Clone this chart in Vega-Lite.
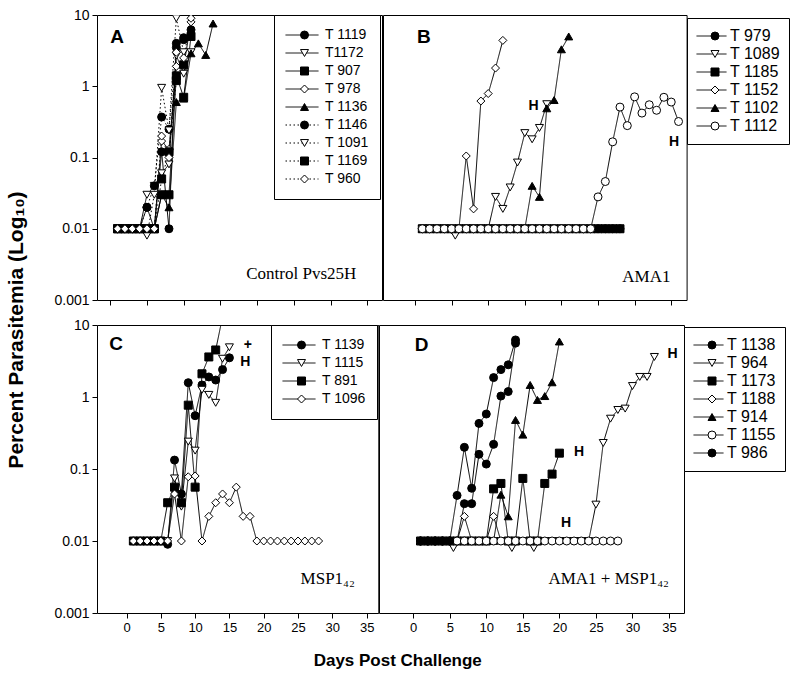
{
  "$schema": "https://vega.github.io/schema/vega-lite/v6.json",
  "padding": {"left": 6, "top": 7, "right": 0, "bottom": 0},
  "background": "white",
  "config": {
    "font": "Liberation Sans",
    "view": {"stroke": "black", "strokeWidth": 1},
    "axis": {"domain": false, "grid": false, "tickColor": "black", "labelColor": "black", "labelFont": "Liberation Sans", "tickSize": 5, "tickWidth": 1},
    "legend": {"symbolStrokeColor": "black", "symbolStrokeWidth": 1}
  },
  "datasets": {
    "A": [
      {"id":"T 1119","day":1,"pct":0.01},{"id":"T 1119","day":2,"pct":0.01},{"id":"T 1119","day":3,"pct":0.01},{"id":"T 1119","day":4,"pct":0.01},{"id":"T 1119","day":5,"pct":0.02},{"id":"T 1119","day":6,"pct":0.01},{"id":"T 1119","day":7,"pct":0.12},{"id":"T 1119","day":8,"pct":0.01},{"id":"T 1119","day":9,"pct":4.0},{"id":"T 1119","day":10,"pct":4.5},{"id":"T 1119","day":11,"pct":6.2},
      {"id":"T1172","day":1,"pct":0.01},{"id":"T1172","day":2,"pct":0.01},{"id":"T1172","day":3,"pct":0.01},{"id":"T1172","day":4,"pct":0.01},{"id":"T1172","day":5,"pct":0.03},{"id":"T1172","day":6,"pct":0.04},{"id":"T1172","day":7,"pct":0.06},{"id":"T1172","day":8,"pct":0.08},{"id":"T1172","day":9,"pct":2.7},{"id":"T1172","day":10,"pct":1.5},{"id":"T1172","day":11,"pct":3.0},
      {"id":"T 907","day":1,"pct":0.01},{"id":"T 907","day":2,"pct":0.01},{"id":"T 907","day":3,"pct":0.01},{"id":"T 907","day":4,"pct":0.01},{"id":"T 907","day":5,"pct":0.01},{"id":"T 907","day":6,"pct":0.01},{"id":"T 907","day":7,"pct":0.03},{"id":"T 907","day":8,"pct":0.03},{"id":"T 907","day":9,"pct":1.4},{"id":"T 907","day":10,"pct":0.7},{"id":"T 907","day":11,"pct":5.0},
      {"id":"T 978","day":1,"pct":0.01},{"id":"T 978","day":2,"pct":0.01},{"id":"T 978","day":3,"pct":0.01},{"id":"T 978","day":4,"pct":0.01},{"id":"T 978","day":5,"pct":0.01},{"id":"T 978","day":6,"pct":0.01},{"id":"T 978","day":7,"pct":0.17},{"id":"T 978","day":8,"pct":0.13},{"id":"T 978","day":9,"pct":1.9},{"id":"T 978","day":10,"pct":1.9},{"id":"T 978","day":11,"pct":8.0},
      {"id":"T 1136","day":1,"pct":0.01},{"id":"T 1136","day":2,"pct":0.01},{"id":"T 1136","day":3,"pct":0.01},{"id":"T 1136","day":4,"pct":0.01},{"id":"T 1136","day":5,"pct":0.01},{"id":"T 1136","day":6,"pct":0.01},{"id":"T 1136","day":7,"pct":0.03},{"id":"T 1136","day":8,"pct":0.02},{"id":"T 1136","day":9,"pct":0.6},{"id":"T 1136","day":10,"pct":0.67},{"id":"T 1136","day":11,"pct":2.9},{"id":"T 1136","day":12,"pct":4.0},{"id":"T 1136","day":13,"pct":2.75},{"id":"T 1136","day":14,"pct":7.6},
      {"id":"T 1146","day":1,"pct":0.01},{"id":"T 1146","day":2,"pct":0.01},{"id":"T 1146","day":3,"pct":0.01},{"id":"T 1146","day":4,"pct":0.01},{"id":"T 1146","day":5,"pct":0.02},{"id":"T 1146","day":6,"pct":0.04},{"id":"T 1146","day":7,"pct":0.37},{"id":"T 1146","day":8,"pct":0.25},{"id":"T 1146","day":9,"pct":3.5},{"id":"T 1146","day":10,"pct":4.8},
      {"id":"T 1091","day":1,"pct":0.01},{"id":"T 1091","day":2,"pct":0.01},{"id":"T 1091","day":3,"pct":0.01},{"id":"T 1091","day":4,"pct":0.01},{"id":"T 1091","day":5,"pct":0.008},{"id":"T 1091","day":6,"pct":0.03},{"id":"T 1091","day":7,"pct":0.95},{"id":"T 1091","day":8,"pct":0.24},{"id":"T 1091","day":9,"pct":9.0},{"id":"T 1091","day":10,"pct":3.0},
      {"id":"T 1169","day":1,"pct":0.01},{"id":"T 1169","day":2,"pct":0.01},{"id":"T 1169","day":3,"pct":0.01},{"id":"T 1169","day":4,"pct":0.01},{"id":"T 1169","day":5,"pct":0.01},{"id":"T 1169","day":6,"pct":0.01},{"id":"T 1169","day":7,"pct":0.05},{"id":"T 1169","day":8,"pct":0.12},{"id":"T 1169","day":9,"pct":1.2},{"id":"T 1169","day":10,"pct":2.0},
      {"id":"T 960","day":1,"pct":0.01},{"id":"T 960","day":2,"pct":0.01},{"id":"T 960","day":3,"pct":0.01},{"id":"T 960","day":4,"pct":0.01},{"id":"T 960","day":5,"pct":0.01},{"id":"T 960","day":6,"pct":0.01},{"id":"T 960","day":7,"pct":0.2},{"id":"T 960","day":8,"pct":0.1},{"id":"T 960","day":9,"pct":3.0},{"id":"T 960","day":10,"pct":2.5},{"id":"T 960","day":11,"pct":9.0}
    ],
    "B": [
      {"id":"T 979","day":1,"pct":0.01},{"id":"T 979","day":2,"pct":0.01},{"id":"T 979","day":3,"pct":0.01},{"id":"T 979","day":4,"pct":0.01},{"id":"T 979","day":5,"pct":0.01},{"id":"T 979","day":6,"pct":0.01},{"id":"T 979","day":7,"pct":0.01},{"id":"T 979","day":8,"pct":0.01},{"id":"T 979","day":9,"pct":0.01},{"id":"T 979","day":10,"pct":0.01},{"id":"T 979","day":11,"pct":0.01},{"id":"T 979","day":12,"pct":0.01},{"id":"T 979","day":13,"pct":0.01},{"id":"T 979","day":14,"pct":0.01},{"id":"T 979","day":15,"pct":0.01},{"id":"T 979","day":16,"pct":0.01},{"id":"T 979","day":17,"pct":0.01},{"id":"T 979","day":18,"pct":0.01},{"id":"T 979","day":19,"pct":0.01},{"id":"T 979","day":20,"pct":0.01},{"id":"T 979","day":21,"pct":0.01},{"id":"T 979","day":22,"pct":0.01},{"id":"T 979","day":23,"pct":0.01},{"id":"T 979","day":24,"pct":0.01},{"id":"T 979","day":25,"pct":0.01},{"id":"T 979","day":26,"pct":0.01},{"id":"T 979","day":27,"pct":0.01},{"id":"T 979","day":28,"pct":0.01},
      {"id":"T 1089","day":1,"pct":0.01},{"id":"T 1089","day":2,"pct":0.01},{"id":"T 1089","day":3,"pct":0.01},{"id":"T 1089","day":4,"pct":0.01},{"id":"T 1089","day":5.5,"pct":0.008},{"id":"T 1089","day":6,"pct":0.01},{"id":"T 1089","day":7,"pct":0.01},{"id":"T 1089","day":8,"pct":0.01},{"id":"T 1089","day":9,"pct":0.01},{"id":"T 1089","day":10,"pct":0.01},{"id":"T 1089","day":11,"pct":0.028},{"id":"T 1089","day":12,"pct":0.019},{"id":"T 1089","day":13,"pct":0.038},{"id":"T 1089","day":14,"pct":0.085},{"id":"T 1089","day":15,"pct":0.22},{"id":"T 1089","day":16,"pct":0.18},{"id":"T 1089","day":17,"pct":0.26},{"id":"T 1089","day":18,"pct":0.56},
      {"id":"T 1185","day":1,"pct":0.01},{"id":"T 1185","day":2,"pct":0.01},{"id":"T 1185","day":3,"pct":0.01},{"id":"T 1185","day":4,"pct":0.01},{"id":"T 1185","day":5,"pct":0.01},{"id":"T 1185","day":6,"pct":0.01},{"id":"T 1185","day":7,"pct":0.01},{"id":"T 1185","day":8,"pct":0.01},{"id":"T 1185","day":9,"pct":0.01},{"id":"T 1185","day":10,"pct":0.01},{"id":"T 1185","day":11,"pct":0.01},{"id":"T 1185","day":12,"pct":0.01},{"id":"T 1185","day":13,"pct":0.01},{"id":"T 1185","day":14,"pct":0.01},{"id":"T 1185","day":15,"pct":0.01},{"id":"T 1185","day":16,"pct":0.01},{"id":"T 1185","day":17,"pct":0.01},{"id":"T 1185","day":18,"pct":0.01},{"id":"T 1185","day":19,"pct":0.01},{"id":"T 1185","day":20,"pct":0.01},{"id":"T 1185","day":21,"pct":0.01},{"id":"T 1185","day":22,"pct":0.01},{"id":"T 1185","day":23,"pct":0.01},{"id":"T 1185","day":24,"pct":0.01},{"id":"T 1185","day":25,"pct":0.01},{"id":"T 1185","day":26,"pct":0.01},{"id":"T 1185","day":27,"pct":0.01},{"id":"T 1185","day":28,"pct":0.01},
      {"id":"T 1152","day":1,"pct":0.01},{"id":"T 1152","day":2,"pct":0.01},{"id":"T 1152","day":3,"pct":0.01},{"id":"T 1152","day":4,"pct":0.01},{"id":"T 1152","day":5,"pct":0.01},{"id":"T 1152","day":6,"pct":0.01},{"id":"T 1152","day":7,"pct":0.105},{"id":"T 1152","day":8,"pct":0.019},{"id":"T 1152","day":9,"pct":0.62},{"id":"T 1152","day":10,"pct":0.79},{"id":"T 1152","day":11,"pct":1.8},{"id":"T 1152","day":12,"pct":4.4},
      {"id":"T 1102","day":1,"pct":0.01},{"id":"T 1102","day":2,"pct":0.01},{"id":"T 1102","day":3,"pct":0.01},{"id":"T 1102","day":4,"pct":0.01},{"id":"T 1102","day":5,"pct":0.01},{"id":"T 1102","day":6,"pct":0.01},{"id":"T 1102","day":7,"pct":0.01},{"id":"T 1102","day":8,"pct":0.01},{"id":"T 1102","day":9,"pct":0.01},{"id":"T 1102","day":10,"pct":0.01},{"id":"T 1102","day":11,"pct":0.01},{"id":"T 1102","day":12,"pct":0.01},{"id":"T 1102","day":13,"pct":0.01},{"id":"T 1102","day":14,"pct":0.01},{"id":"T 1102","day":15,"pct":0.01},{"id":"T 1102","day":16,"pct":0.04},{"id":"T 1102","day":17,"pct":0.028},{"id":"T 1102","day":18,"pct":0.49},{"id":"T 1102","day":19,"pct":0.64},{"id":"T 1102","day":20,"pct":3.3},{"id":"T 1102","day":21,"pct":5.0},
      {"id":"T 1112","day":1,"pct":0.01},{"id":"T 1112","day":2,"pct":0.01},{"id":"T 1112","day":3,"pct":0.01},{"id":"T 1112","day":4,"pct":0.01},{"id":"T 1112","day":5,"pct":0.01},{"id":"T 1112","day":6,"pct":0.01},{"id":"T 1112","day":7,"pct":0.01},{"id":"T 1112","day":8,"pct":0.01},{"id":"T 1112","day":9,"pct":0.01},{"id":"T 1112","day":10,"pct":0.01},{"id":"T 1112","day":11,"pct":0.01},{"id":"T 1112","day":12,"pct":0.01},{"id":"T 1112","day":13,"pct":0.01},{"id":"T 1112","day":14,"pct":0.01},{"id":"T 1112","day":15,"pct":0.01},{"id":"T 1112","day":16,"pct":0.01},{"id":"T 1112","day":17,"pct":0.01},{"id":"T 1112","day":18,"pct":0.01},{"id":"T 1112","day":19,"pct":0.01},{"id":"T 1112","day":20,"pct":0.01},{"id":"T 1112","day":21,"pct":0.01},{"id":"T 1112","day":22,"pct":0.01},{"id":"T 1112","day":23,"pct":0.01},{"id":"T 1112","day":24,"pct":0.01},{"id":"T 1112","day":25,"pct":0.028},{"id":"T 1112","day":26,"pct":0.046},{"id":"T 1112","day":27,"pct":0.166},{"id":"T 1112","day":28,"pct":0.51},{"id":"T 1112","day":29,"pct":0.28},{"id":"T 1112","day":30,"pct":0.71},{"id":"T 1112","day":31,"pct":0.42},{"id":"T 1112","day":32,"pct":0.55},{"id":"T 1112","day":33,"pct":0.46},{"id":"T 1112","day":34,"pct":0.7},{"id":"T 1112","day":35,"pct":0.6},{"id":"T 1112","day":36,"pct":0.32}
    ],
    "C": [
      {"id":"T 1139","day":1,"pct":0.01},{"id":"T 1139","day":2,"pct":0.01},{"id":"T 1139","day":3,"pct":0.01},{"id":"T 1139","day":4,"pct":0.01},{"id":"T 1139","day":5,"pct":0.01},{"id":"T 1139","day":6,"pct":0.009},{"id":"T 1139","day":7,"pct":0.133},{"id":"T 1139","day":8,"pct":0.045},{"id":"T 1139","day":9,"pct":1.58},{"id":"T 1139","day":10,"pct":0.55},{"id":"T 1139","day":11,"pct":1.47},{"id":"T 1139","day":12,"pct":1.9},{"id":"T 1139","day":13,"pct":1.72},{"id":"T 1139","day":14,"pct":2.4},{"id":"T 1139","day":15,"pct":3.5},
      {"id":"T 1115","day":1,"pct":0.01},{"id":"T 1115","day":2,"pct":0.01},{"id":"T 1115","day":3,"pct":0.01},{"id":"T 1115","day":4,"pct":0.01},{"id":"T 1115","day":5,"pct":0.01},{"id":"T 1115","day":6,"pct":0.01},{"id":"T 1115","day":7,"pct":0.074},{"id":"T 1115","day":8,"pct":0.03},{"id":"T 1115","day":9,"pct":0.24},{"id":"T 1115","day":10,"pct":0.18},{"id":"T 1115","day":11,"pct":1.26},{"id":"T 1115","day":12,"pct":1.07},{"id":"T 1115","day":13,"pct":0.83},{"id":"T 1115","day":14,"pct":3.4},{"id":"T 1115","day":15,"pct":4.9},
      {"id":"T 891","day":1,"pct":0.01},{"id":"T 891","day":2,"pct":0.01},{"id":"T 891","day":3,"pct":0.01},{"id":"T 891","day":4,"pct":0.01},{"id":"T 891","day":5,"pct":0.01},{"id":"T 891","day":6,"pct":0.034},{"id":"T 891","day":7,"pct":0.056},{"id":"T 891","day":8,"pct":0.034},{"id":"T 891","day":9,"pct":0.77},{"id":"T 891","day":10,"pct":0.056},{"id":"T 891","day":11,"pct":2.1},{"id":"T 891","day":12,"pct":3.6},{"id":"T 891","day":13,"pct":4.5},{"id":"T 891","day":14,"pct":13},
      {"id":"T 1096","day":1,"pct":0.01},{"id":"T 1096","day":2,"pct":0.01},{"id":"T 1096","day":3,"pct":0.01},{"id":"T 1096","day":4,"pct":0.01},{"id":"T 1096","day":5,"pct":0.01},{"id":"T 1096","day":6,"pct":0.01},{"id":"T 1096","day":7,"pct":0.045},{"id":"T 1096","day":8,"pct":0.01},{"id":"T 1096","day":9,"pct":0.078},{"id":"T 1096","day":10,"pct":0.08},{"id":"T 1096","day":11,"pct":0.01},{"id":"T 1096","day":12,"pct":0.022},{"id":"T 1096","day":13,"pct":0.034},{"id":"T 1096","day":14,"pct":0.045},{"id":"T 1096","day":15,"pct":0.034},{"id":"T 1096","day":16,"pct":0.056},{"id":"T 1096","day":17,"pct":0.022},{"id":"T 1096","day":18,"pct":0.022},{"id":"T 1096","day":19,"pct":0.01},{"id":"T 1096","day":20,"pct":0.01},{"id":"T 1096","day":21,"pct":0.01},{"id":"T 1096","day":22,"pct":0.01},{"id":"T 1096","day":23,"pct":0.01},{"id":"T 1096","day":24,"pct":0.01},{"id":"T 1096","day":25,"pct":0.01},{"id":"T 1096","day":26,"pct":0.01},{"id":"T 1096","day":27,"pct":0.01},{"id":"T 1096","day":28,"pct":0.01}
    ],
    "D": [
      {"id":"T 1138","day":1,"pct":0.01},{"id":"T 1138","day":2,"pct":0.01},{"id":"T 1138","day":3,"pct":0.01},{"id":"T 1138","day":4,"pct":0.01},{"id":"T 1138","day":5,"pct":0.01},{"id":"T 1138","day":6,"pct":0.01},{"id":"T 1138","day":7,"pct":0.033},{"id":"T 1138","day":8,"pct":0.033},{"id":"T 1138","day":9,"pct":0.16},{"id":"T 1138","day":10,"pct":0.117},{"id":"T 1138","day":11,"pct":0.22},{"id":"T 1138","day":12,"pct":1.03},{"id":"T 1138","day":13,"pct":1.19},{"id":"T 1138","day":14,"pct":5.6},
      {"id":"T 964","day":1,"pct":0.01},{"id":"T 964","day":2,"pct":0.01},{"id":"T 964","day":3,"pct":0.01},{"id":"T 964","day":4,"pct":0.01},{"id":"T 964","day":5,"pct":0.01},{"id":"T 964","day":5.5,"pct":0.008},{"id":"T 964","day":6,"pct":0.01},{"id":"T 964","day":7,"pct":0.01},{"id":"T 964","day":8,"pct":0.01},{"id":"T 964","day":9,"pct":0.01},{"id":"T 964","day":10,"pct":0.01},{"id":"T 964","day":11,"pct":0.01},{"id":"T 964","day":12,"pct":0.01},{"id":"T 964","day":13,"pct":0.01},{"id":"T 964","day":13.5,"pct":0.008},{"id":"T 964","day":14,"pct":0.01},{"id":"T 964","day":15,"pct":0.01},{"id":"T 964","day":16,"pct":0.01},{"id":"T 964","day":16.5,"pct":0.008},{"id":"T 964","day":17,"pct":0.01},{"id":"T 964","day":18,"pct":0.01},{"id":"T 964","day":19,"pct":0.01},{"id":"T 964","day":20,"pct":0.01},{"id":"T 964","day":21,"pct":0.01},{"id":"T 964","day":22,"pct":0.01},{"id":"T 964","day":23,"pct":0.01},{"id":"T 964","day":24,"pct":0.01},{"id":"T 964","day":25,"pct":0.032},{"id":"T 964","day":26,"pct":0.23},{"id":"T 964","day":27,"pct":0.5},{"id":"T 964","day":28,"pct":0.66},{"id":"T 964","day":29,"pct":0.69},{"id":"T 964","day":30,"pct":1.42},{"id":"T 964","day":31,"pct":1.9},{"id":"T 964","day":32,"pct":1.9},{"id":"T 964","day":33,"pct":3.6},
      {"id":"T 1173","day":1,"pct":0.01},{"id":"T 1173","day":2,"pct":0.01},{"id":"T 1173","day":3,"pct":0.01},{"id":"T 1173","day":4,"pct":0.01},{"id":"T 1173","day":5,"pct":0.01},{"id":"T 1173","day":6,"pct":0.01},{"id":"T 1173","day":7,"pct":0.01},{"id":"T 1173","day":8,"pct":0.01},{"id":"T 1173","day":9,"pct":0.01},{"id":"T 1173","day":10,"pct":0.01},{"id":"T 1173","day":11,"pct":0.053},{"id":"T 1173","day":12,"pct":0.063},{"id":"T 1173","day":13,"pct":0.01},{"id":"T 1173","day":14,"pct":0.01},{"id":"T 1173","day":15,"pct":0.074},{"id":"T 1173","day":16,"pct":0.01},{"id":"T 1173","day":17,"pct":0.01},{"id":"T 1173","day":18,"pct":0.063},{"id":"T 1173","day":19,"pct":0.085},{"id":"T 1173","day":20,"pct":0.166},
      {"id":"T 1188","day":1,"pct":0.01},{"id":"T 1188","day":2,"pct":0.01},{"id":"T 1188","day":3,"pct":0.01},{"id":"T 1188","day":4,"pct":0.01},{"id":"T 1188","day":5,"pct":0.01},{"id":"T 1188","day":6,"pct":0.01},{"id":"T 1188","day":7,"pct":0.022},{"id":"T 1188","day":8,"pct":0.01},{"id":"T 1188","day":9,"pct":0.01},{"id":"T 1188","day":10,"pct":0.01},{"id":"T 1188","day":11,"pct":0.022},{"id":"T 1188","day":12,"pct":0.01},{"id":"T 1188","day":13,"pct":0.01},{"id":"T 1188","day":14,"pct":0.01},{"id":"T 1188","day":15,"pct":0.01},{"id":"T 1188","day":16,"pct":0.01},{"id":"T 1188","day":17,"pct":0.01},{"id":"T 1188","day":18,"pct":0.01},{"id":"T 1188","day":19,"pct":0.01},{"id":"T 1188","day":20,"pct":0.01},
      {"id":"T 914","day":1,"pct":0.01},{"id":"T 914","day":2,"pct":0.01},{"id":"T 914","day":3,"pct":0.01},{"id":"T 914","day":4,"pct":0.01},{"id":"T 914","day":5,"pct":0.01},{"id":"T 914","day":6,"pct":0.01},{"id":"T 914","day":7,"pct":0.01},{"id":"T 914","day":8,"pct":0.01},{"id":"T 914","day":9,"pct":0.01},{"id":"T 914","day":10,"pct":0.01},{"id":"T 914","day":11,"pct":0.01},{"id":"T 914","day":12,"pct":0.044},{"id":"T 914","day":13,"pct":0.022},{"id":"T 914","day":14,"pct":0.48},{"id":"T 914","day":15,"pct":0.3},{"id":"T 914","day":16,"pct":1.47},{"id":"T 914","day":17,"pct":0.91},{"id":"T 914","day":18,"pct":1.03},{"id":"T 914","day":19,"pct":1.6},{"id":"T 914","day":20,"pct":5.9},
      {"id":"T 1155","day":1,"pct":0.01},{"id":"T 1155","day":2,"pct":0.01},{"id":"T 1155","day":3,"pct":0.01},{"id":"T 1155","day":4,"pct":0.01},{"id":"T 1155","day":5,"pct":0.01},{"id":"T 1155","day":6,"pct":0.01},{"id":"T 1155","day":7,"pct":0.01},{"id":"T 1155","day":8,"pct":0.01},{"id":"T 1155","day":9,"pct":0.01},{"id":"T 1155","day":10,"pct":0.01},{"id":"T 1155","day":11,"pct":0.01},{"id":"T 1155","day":12,"pct":0.01},{"id":"T 1155","day":13,"pct":0.01},{"id":"T 1155","day":14,"pct":0.01},{"id":"T 1155","day":15,"pct":0.01},{"id":"T 1155","day":16,"pct":0.01},{"id":"T 1155","day":17,"pct":0.01},{"id":"T 1155","day":18,"pct":0.01},{"id":"T 1155","day":19,"pct":0.01},{"id":"T 1155","day":20,"pct":0.01},{"id":"T 1155","day":21,"pct":0.01},{"id":"T 1155","day":22,"pct":0.01},{"id":"T 1155","day":23,"pct":0.01},{"id":"T 1155","day":24,"pct":0.01},{"id":"T 1155","day":25,"pct":0.01},{"id":"T 1155","day":26,"pct":0.01},{"id":"T 1155","day":27,"pct":0.01},{"id":"T 1155","day":28,"pct":0.01},
      {"id":"T 986","day":1,"pct":0.01},{"id":"T 986","day":2,"pct":0.01},{"id":"T 986","day":3,"pct":0.01},{"id":"T 986","day":4,"pct":0.01},{"id":"T 986","day":5,"pct":0.01},{"id":"T 986","day":6,"pct":0.043},{"id":"T 986","day":7,"pct":0.2},{"id":"T 986","day":8,"pct":0.054},{"id":"T 986","day":9,"pct":0.43},{"id":"T 986","day":10,"pct":0.58},{"id":"T 986","day":11,"pct":1.86},{"id":"T 986","day":12,"pct":2.4},{"id":"T 986","day":13,"pct":2.8},{"id":"T 986","day":14,"pct":6.2}
    ],
    "notes": [
      {"panel":"A","kind":"letter","day":0.95,"pct":4.9,"label":"A"},
      {"panel":"A","kind":"caption","day":33.5,"pct":0.00197,"label":"Control Pvs25H"},
      {"panel":"B","kind":"letter","day":1.2,"pct":4.9,"label":"B"},
      {"panel":"B","kind":"caption","day":34.9,"pct":0.00181,"label":"AMA1"},
      {"panel":"B","kind":"mark","day":16.2,"pct":0.52,"label":"H"},
      {"panel":"B","kind":"mark","day":35.4,"pct":0.166,"label":"H"},
      {"panel":"C","kind":"letter","day":-1.5,"pct":5.4,"label":"C"},
      {"panel":"C","kind":"caption","day":33.3,"pct":0.00253,"label":"MSP1₄₂"},
      {"panel":"C","kind":"mark","day":17.7,"pct":5.3,"label":"+"},
      {"panel":"C","kind":"mark","day":17.3,"pct":3.1,"label":"H"},
      {"panel":"D","kind":"letter","day":1.16,"pct":5.2,"label":"D"},
      {"panel":"D","kind":"caption","day":35.0,"pct":0.00253,"label":"AMA1 + MSP1₄₂"},
      {"panel":"D","kind":"mark","day":35.5,"pct":4.0,"label":"H"},
      {"panel":"D","kind":"mark","day":22.7,"pct":0.17,"label":"H"},
      {"panel":"D","kind":"mark","day":20.9,"pct":0.0177,"label":"H"}
    ]
  },
  "title": {"text": "Percent Parasitemia (Log₁₀)", "orient": "left", "anchor": "middle", "fontSize": 21, "fontWeight": "bold", "font": "Liberation Sans", "color": "black", "offset": 26, "dx": 8},
  "resolve": {"scale": {"shape": "independent", "fill": "independent", "stroke": "independent", "strokeDash": "independent"}, "legend": {"shape": "independent", "fill": "independent", "stroke": "independent", "strokeDash": "independent"}},
  "vconcat": [
    {
      "title": {"text": "Days Post Challenge", "orient": "bottom", "anchor": "middle", "fontSize": 17, "fontWeight": "bold", "font": "Liberation Sans", "color": "black", "offset": 18, "dx": -24},
      "spacing": 9,
      "resolve": {"scale": {"shape": "independent", "fill": "independent", "stroke": "independent", "strokeDash": "independent"}, "legend": {"shape": "independent", "fill": "independent", "stroke": "independent", "strokeDash": "independent"}},
      "vconcat": [
        {
          "spacing": -4,
          "resolve": {"scale": {"shape": "independent", "fill": "independent", "stroke": "independent", "strokeDash": "independent"}, "legend": {"shape": "independent", "fill": "independent", "stroke": "independent", "strokeDash": "independent"}},
          "hconcat": [
            {
              "width": 285, "height": 285,
              "data": {"name": "A"},
              "encoding": {
                "x": {"field": "day", "type": "quantitative", "scale": {"domain": [-1.8, 37.0], "nice": false, "zero": false}, "axis": {"values": [0,5,10,15,20,25,30,35], "labels": false, "title": null}},
                "y": {"field": "pct", "type": "quantitative", "scale": {"type": "log", "domain": [0.001, 10], "nice": false}, "axis": {"values": [0.001,0.01,0.1,1,10], "format": "~g", "title": null, "labelFontSize": 14, "labelPadding": 3}}
              },
              "layer": [
                {"mark": {"type": "line", "color": "black", "strokeWidth": 1, "clip": true},
                 "encoding": {"strokeDash": {"field": "id", "type": "nominal", "sort": null, "scale": {"range": [[1,0],[1,0],[1,0],[1,0],[1,0],[1.5,2.5],[1.5,2.5],[1.5,2.5],[1.5,2.5]]},
                   "legend": {"orient": "none", "legendX": 177, "legendY": 0, "title": null, "symbolType": "stroke", "symbolSize": 1089, "symbolStrokeColor": "black", "symbolStrokeWidth": 1, "labelFontSize": 14, "labelFont": "Liberation Sans", "labelColor": "black", "labelOffset": 6, "rowPadding": 0, "clipHeight": 18, "padding": 11, "strokeColor": "black", "fillColor": "white", "zindex": 0}}}},
                {"mark": {"type": "point", "filled": true, "size": 64, "strokeWidth": 1, "opacity": 1, "clip": true},
                 "encoding": {
                   "shape": {"field": "id", "type": "nominal", "scale": {"domain": ["T 1119","T1172","T 907","T 978","T 1136","T 1146","T 1091","T 1169","T 960"], "range": ["circle","triangle-down","square","diamond","triangle-up","circle","triangle-down","square","diamond"]},
                     "legend": {"orient": "none", "legendX": 177, "legendY": 0, "title": null, "symbolSize": 64, "symbolStrokeWidth": 1, "symbolOffset": 12.5, "labelFontSize": 14, "labelOpacity": 0, "rowPadding": 0, "clipHeight": 18, "padding": 11, "zindex": 1}},
                   "fill": {"field": "id", "type": "nominal", "scale": {"domain": ["T 1119","T1172","T 907","T 978","T 1136","T 1146","T 1091","T 1169","T 960"], "range": ["black","white","black","white","black","black","white","black","white"]},
                     "legend": {"orient": "none", "legendX": 177, "legendY": 0, "title": null, "symbolSize": 64, "symbolStrokeWidth": 1, "symbolOffset": 12.5, "labelFontSize": 14, "labelOpacity": 0, "rowPadding": 0, "clipHeight": 18, "padding": 11, "zindex": 1}},
                   "stroke": {"field": "id", "type": "nominal", "scale": {"domain": ["T 1119","T1172","T 907","T 978","T 1136","T 1146","T 1091","T 1169","T 960"], "range": ["black","black","black","black","black","black","black","black","black"]},
                     "legend": {"orient": "none", "legendX": 177, "legendY": 0, "title": null, "symbolSize": 64, "symbolStrokeWidth": 1, "symbolOffset": 12.5, "labelFontSize": 14, "labelOpacity": 0, "rowPadding": 0, "clipHeight": 18, "padding": 11, "zindex": 1}}
                 }},
                {"data": {"name": "notes"}, "transform": [{"filter": "datum.panel == 'A' && datum.kind == 'letter'"}], "mark": {"type": "text", "fontSize": 19, "fontWeight": "bold", "font": "Liberation Sans", "color": "black", "align": "center", "baseline": "middle"}, "encoding": {"text": {"field": "label"}}},
                {"data": {"name": "notes"}, "transform": [{"filter": "datum.panel == 'A' && datum.kind == 'caption'"}], "mark": {"type": "text", "fontSize": 17, "font": "Liberation Serif", "color": "black", "align": "right", "baseline": "alphabetic"}, "encoding": {"text": {"field": "label"}}}
              ]
            },
            {
              "width": 303.6, "height": 285,
              "data": {"name": "B"},
              "encoding": {
                "x": {"field": "day", "type": "quantitative", "scale": {"domain": [-4.37, 37.1], "nice": false, "zero": false}, "axis": {"values": [0,5,10,15,20,25,30,35], "labels": false, "title": null}},
                "y": {"field": "pct", "type": "quantitative", "scale": {"type": "log", "domain": [0.001, 10], "nice": false}, "axis": null}
              },
              "layer": [
                {"mark": {"type": "line", "color": "black", "strokeWidth": 1, "clip": true},
                 "encoding": {"strokeDash": {"field": "id", "type": "nominal", "sort": null, "scale": {"range": [[1,0],[1,0],[1,0],[1,0],[1,0],[1,0]]},
                   "legend": {"orient": "none", "legendX": 304, "legendY": 3, "title": null, "symbolType": "stroke", "symbolSize": 900, "symbolStrokeColor": "black", "symbolStrokeWidth": 1, "labelFontSize": 16, "labelFont": "Liberation Sans", "labelColor": "black", "labelOffset": 3, "rowPadding": 0, "clipHeight": 18, "padding": 9, "strokeColor": "black", "fillColor": "white", "zindex": 0}}}},
                {"mark": {"type": "point", "filled": true, "size": 64, "strokeWidth": 1, "opacity": 1, "clip": true},
                 "encoding": {
                   "shape": {"field": "id", "type": "nominal", "scale": {"domain": ["T 979","T 1089","T 1185","T 1152","T 1102","T 1112"], "range": ["circle","triangle-down","square","diamond","triangle-up","circle"]},
                     "legend": {"orient": "none", "legendX": 304, "legendY": 3, "title": null, "symbolSize": 64, "symbolStrokeWidth": 1, "symbolOffset": 11, "labelFontSize": 16, "labelOpacity": 0, "rowPadding": 0, "clipHeight": 18, "padding": 9, "zindex": 1}},
                   "fill": {"field": "id", "type": "nominal", "scale": {"domain": ["T 979","T 1089","T 1185","T 1152","T 1102","T 1112"], "range": ["black","white","black","white","black","white"]},
                     "legend": {"orient": "none", "legendX": 304, "legendY": 3, "title": null, "symbolSize": 64, "symbolStrokeWidth": 1, "symbolOffset": 11, "labelFontSize": 16, "labelOpacity": 0, "rowPadding": 0, "clipHeight": 18, "padding": 9, "zindex": 1}},
                   "stroke": {"field": "id", "type": "nominal", "scale": {"domain": ["T 979","T 1089","T 1185","T 1152","T 1102","T 1112"], "range": ["black","black","black","black","black","black"]},
                     "legend": {"orient": "none", "legendX": 304, "legendY": 3, "title": null, "symbolSize": 64, "symbolStrokeWidth": 1, "symbolOffset": 11, "labelFontSize": 16, "labelOpacity": 0, "rowPadding": 0, "clipHeight": 18, "padding": 9, "zindex": 1}}
                 }},
                {"data": {"name": "notes"}, "transform": [{"filter": "datum.panel == 'B' && datum.kind == 'letter'"}], "mark": {"type": "text", "fontSize": 19, "fontWeight": "bold", "font": "Liberation Sans", "color": "black", "align": "center", "baseline": "middle"}, "encoding": {"text": {"field": "label"}}},
                {"data": {"name": "notes"}, "transform": [{"filter": "datum.panel == 'B' && datum.kind == 'caption'"}], "mark": {"type": "text", "fontSize": 17, "font": "Liberation Serif", "color": "black", "align": "right", "baseline": "alphabetic"}, "encoding": {"text": {"field": "label"}}},
                {"data": {"name": "notes"}, "transform": [{"filter": "datum.panel == 'B' && datum.kind == 'mark'"}], "mark": {"type": "text", "fontSize": 14, "fontWeight": "bold", "font": "Liberation Sans", "color": "black", "align": "center", "baseline": "middle"}, "encoding": {"text": {"field": "label"}}}
              ]
            }
          ]
        },
        {
          "spacing": -3,
          "resolve": {"scale": {"shape": "independent", "fill": "independent", "stroke": "independent", "strokeDash": "independent"}, "legend": {"shape": "independent", "fill": "independent", "stroke": "independent", "strokeDash": "independent"}},
          "hconcat": [
            {
              "width": 281.3, "height": 288,
              "data": {"name": "C"},
              "encoding": {
                "x": {"field": "day", "type": "quantitative", "scale": {"domain": [-4.3, 36.7], "nice": false, "zero": false}, "axis": {"values": [0,5,10,15,20,25,30,35], "title": null, "labelFontSize": 13, "labelPadding": 3}},
                "y": {"field": "pct", "type": "quantitative", "scale": {"type": "log", "domain": [0.001, 10], "nice": false}, "axis": {"values": [0.001,0.01,0.1,1,10], "format": "~g", "title": null, "labelFontSize": 14, "labelPadding": 3}}
              },
              "layer": [
                {"mark": {"type": "line", "color": "black", "strokeWidth": 1, "clip": true},
                 "encoding": {"strokeDash": {"field": "id", "type": "nominal", "sort": null, "scale": {"range": [[1,0],[1,0],[1,0],[1,0]]},
                   "legend": {"orient": "none", "legendX": 174, "legendY": 0, "title": null, "symbolType": "stroke", "symbolSize": 1089, "symbolStrokeColor": "black", "symbolStrokeWidth": 1, "labelFontSize": 14, "labelFont": "Liberation Sans", "labelColor": "black", "labelOffset": 6, "rowPadding": 0, "clipHeight": 18, "padding": 11, "strokeColor": "black", "fillColor": "white", "zindex": 0}}}},
                {"mark": {"type": "point", "filled": true, "size": 64, "strokeWidth": 1, "opacity": 1, "clip": true},
                 "encoding": {
                   "shape": {"field": "id", "type": "nominal", "scale": {"domain": ["T 1139","T 1115","T 891","T 1096"], "range": ["circle","triangle-down","square","diamond"]},
                     "legend": {"orient": "none", "legendX": 174, "legendY": 0, "title": null, "symbolSize": 64, "symbolStrokeWidth": 1, "symbolOffset": 12.5, "labelFontSize": 14, "labelOpacity": 0, "rowPadding": 0, "clipHeight": 18, "padding": 11, "zindex": 1}},
                   "fill": {"field": "id", "type": "nominal", "scale": {"domain": ["T 1139","T 1115","T 891","T 1096"], "range": ["black","white","black","white"]},
                     "legend": {"orient": "none", "legendX": 174, "legendY": 0, "title": null, "symbolSize": 64, "symbolStrokeWidth": 1, "symbolOffset": 12.5, "labelFontSize": 14, "labelOpacity": 0, "rowPadding": 0, "clipHeight": 18, "padding": 11, "zindex": 1}},
                   "stroke": {"field": "id", "type": "nominal", "scale": {"domain": ["T 1139","T 1115","T 891","T 1096"], "range": ["black","black","black","black"]},
                     "legend": {"orient": "none", "legendX": 174, "legendY": 0, "title": null, "symbolSize": 64, "symbolStrokeWidth": 1, "symbolOffset": 12.5, "labelFontSize": 14, "labelOpacity": 0, "rowPadding": 0, "clipHeight": 18, "padding": 11, "zindex": 1}}
                 }},
                {"data": {"name": "notes"}, "transform": [{"filter": "datum.panel == 'C' && datum.kind == 'letter'"}], "mark": {"type": "text", "fontSize": 19, "fontWeight": "bold", "font": "Liberation Sans", "color": "black", "align": "center", "baseline": "middle"}, "encoding": {"text": {"field": "label"}}},
                {"data": {"name": "notes"}, "transform": [{"filter": "datum.panel == 'C' && datum.kind == 'caption'"}], "mark": {"type": "text", "fontSize": 17, "font": "Liberation Serif", "color": "black", "align": "right", "baseline": "alphabetic"}, "encoding": {"text": {"field": "label"}}},
                {"data": {"name": "notes"}, "transform": [{"filter": "datum.panel == 'C' && datum.kind == 'mark'"}], "mark": {"type": "text", "fontSize": 14, "fontWeight": "bold", "font": "Liberation Sans", "color": "black", "align": "center", "baseline": "middle"}, "encoding": {"text": {"field": "label"}}}
              ]
            },
            {
              "width": 305, "height": 288,
              "data": {"name": "D"},
              "encoding": {
                "x": {"field": "day", "type": "quantitative", "scale": {"domain": [-4.68, 37.05], "nice": false, "zero": false}, "axis": {"values": [0,5,10,15,20,25,30,35], "title": null, "labelFontSize": 13, "labelPadding": 3}},
                "y": {"field": "pct", "type": "quantitative", "scale": {"type": "log", "domain": [0.001, 10], "nice": false}, "axis": null}
              },
              "layer": [
                {"mark": {"type": "line", "color": "black", "strokeWidth": 1, "clip": true},
                 "encoding": {"strokeDash": {"field": "id", "type": "nominal", "sort": null, "scale": {"range": [[1,0],[1,0],[1,0],[1,0],[1,0],[1,0],[1,0]]},
                   "legend": {"orient": "none", "legendX": 305, "legendY": 2, "title": null, "symbolType": "stroke", "symbolSize": 900, "symbolStrokeColor": "black", "symbolStrokeWidth": 1, "labelFontSize": 16, "labelFont": "Liberation Sans", "labelColor": "black", "labelOffset": 3, "rowPadding": 0, "clipHeight": 18, "padding": 9, "strokeColor": "black", "fillColor": "white", "zindex": 0}}}},
                {"mark": {"type": "point", "filled": true, "size": 64, "strokeWidth": 1, "opacity": 1, "clip": true},
                 "encoding": {
                   "shape": {"field": "id", "type": "nominal", "scale": {"domain": ["T 1138","T 964","T 1173","T 1188","T 914","T 1155","T 986"], "range": ["circle","triangle-down","square","diamond","triangle-up","circle","circle"]},
                     "legend": {"orient": "none", "legendX": 305, "legendY": 2, "title": null, "symbolSize": 64, "symbolStrokeWidth": 1, "symbolOffset": 11, "labelFontSize": 16, "labelOpacity": 0, "rowPadding": 0, "clipHeight": 18, "padding": 9, "zindex": 1}},
                   "fill": {"field": "id", "type": "nominal", "scale": {"domain": ["T 1138","T 964","T 1173","T 1188","T 914","T 1155","T 986"], "range": ["black","white","black","white","black","white","black"]},
                     "legend": {"orient": "none", "legendX": 305, "legendY": 2, "title": null, "symbolSize": 64, "symbolStrokeWidth": 1, "symbolOffset": 11, "labelFontSize": 16, "labelOpacity": 0, "rowPadding": 0, "clipHeight": 18, "padding": 9, "zindex": 1}},
                   "stroke": {"field": "id", "type": "nominal", "scale": {"domain": ["T 1138","T 964","T 1173","T 1188","T 914","T 1155","T 986"], "range": ["black","black","black","black","black","black","black"]},
                     "legend": {"orient": "none", "legendX": 305, "legendY": 2, "title": null, "symbolSize": 64, "symbolStrokeWidth": 1, "symbolOffset": 11, "labelFontSize": 16, "labelOpacity": 0, "rowPadding": 0, "clipHeight": 18, "padding": 9, "zindex": 1}}
                 }},
                {"data": {"name": "notes"}, "transform": [{"filter": "datum.panel == 'D' && datum.kind == 'letter'"}], "mark": {"type": "text", "fontSize": 19, "fontWeight": "bold", "font": "Liberation Sans", "color": "black", "align": "center", "baseline": "middle"}, "encoding": {"text": {"field": "label"}}},
                {"data": {"name": "notes"}, "transform": [{"filter": "datum.panel == 'D' && datum.kind == 'caption'"}], "mark": {"type": "text", "fontSize": 17, "font": "Liberation Serif", "color": "black", "align": "right", "baseline": "alphabetic"}, "encoding": {"text": {"field": "label"}}},
                {"data": {"name": "notes"}, "transform": [{"filter": "datum.panel == 'D' && datum.kind == 'mark'"}], "mark": {"type": "text", "fontSize": 14, "fontWeight": "bold", "font": "Liberation Sans", "color": "black", "align": "center", "baseline": "middle"}, "encoding": {"text": {"field": "label"}}}
              ]
            }
          ]
        }
      ]
    }
  ]
}
